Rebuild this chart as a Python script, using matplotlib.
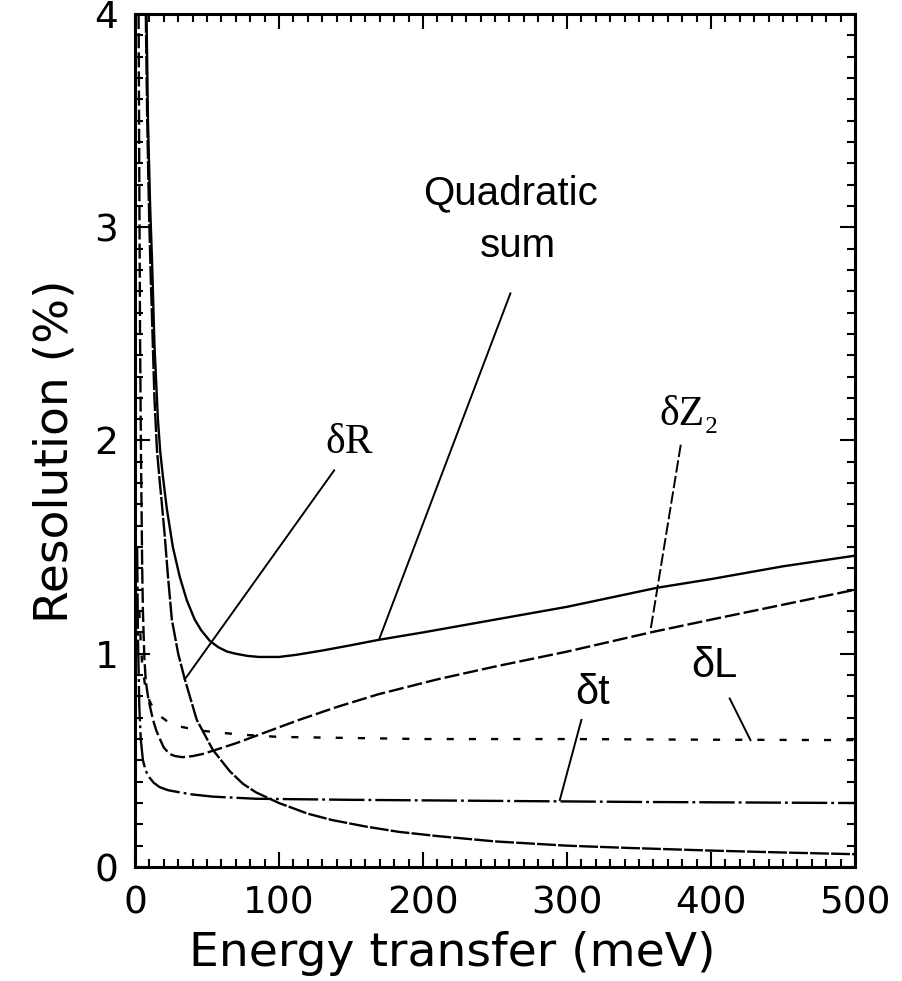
import numpy as np
import matplotlib
matplotlib.use('Agg')
from matplotlib import pyplot as plt
from matplotlib.ticker import MultipleLocator

# values (energy transfer in meV, resolution in %)
qs_x = [8, 9, 10.5, 11.8, 13.5, 15.9, 17.5, 19.4, 22.1, 26.3, 31.1, 36, 41.5,
        46, 52, 58, 64, 70, 78, 86, 100, 112, 130, 150, 169, 200, 250, 300,
        363, 400, 450, 500]
qs_y = [4.0, 3.5, 3.1, 2.85, 2.45, 2.10, 1.95, 1.83, 1.68, 1.50, 1.36, 1.25,
        1.16, 1.11, 1.06, 1.03, 1.01, 1.0, 0.99, 0.985, 0.985, 0.995, 1.015,
        1.04, 1.065, 1.10, 1.16, 1.22, 1.31, 1.35, 1.41, 1.46]

dR_x = [7.5, 8, 8.5, 9.2, 10, 11, 11.7, 12.6, 13.5, 15.2, 17, 18.7, 20.7,
        22.8, 25.6, 30, 34.6, 42.9, 54, 65.7, 75, 84, 100, 120, 137, 160, 183,
        210, 250, 300, 340, 400, 450, 500]
dR_y = [4.0, 3.75, 3.5, 3.25, 3.0, 2.75, 2.6, 2.4, 2.2, 1.96, 1.82, 1.70,
        1.55, 1.37, 1.16, 1.0, 0.88, 0.69, 0.55, 0.45, 0.39, 0.35, 0.30, 0.25,
        0.22, 0.19, 0.165, 0.145, 0.12, 0.10, 0.09, 0.077, 0.068, 0.06]

dZ2_x = [2.5, 3.0, 3.5, 4.2, 5.0, 5.5, 6.5, 7.5, 9, 10.5, 12.5, 14.8, 17.3,
         20, 24, 28, 33, 40, 47, 54, 70, 86, 114, 140, 169, 210, 250, 300,
         358, 400, 450, 500]
dZ2_y = [4.0, 3.2, 2.5, 1.9, 1.4, 1.2, 0.98, 0.87, 0.80, 0.75, 0.69, 0.64,
         0.60, 0.56, 0.53, 0.52, 0.515, 0.52, 0.53, 0.545, 0.58, 0.62, 0.69,
         0.75, 0.81, 0.88, 0.94, 1.01, 1.10, 1.16, 1.23, 1.30]

dL_x = [3, 4, 5, 7, 10, 13, 17, 23, 30, 45, 59, 75, 100, 150, 200, 300, 400,
        500]
dL_y = [1.2, 1.05, 0.95, 0.85, 0.78, 0.74, 0.71, 0.68, 0.66, 0.64, 0.63,
        0.62, 0.61, 0.605, 0.60, 0.60, 0.597, 0.595]

dt_x = [1.5, 2, 3, 4, 5.5, 7.5, 10, 13, 17, 23, 31, 40, 54, 84, 150, 250,
        350, 500]
dt_y = [1.5, 1.1, 0.75, 0.6, 0.5, 0.45, 0.42, 0.395, 0.375, 0.36, 0.35,
        0.34, 0.33, 0.32, 0.315, 0.31, 0.305, 0.30]

# leader lines from each label to its curve: (start), (end)
qs_leader = [(260.7, 2.69), (169.4, 1.065)]
dR_leader = [(138.3, 1.86), (34.6, 0.88)]
dZ2_leader = [(379, 1.98), (358, 1.11)]
dt_leader = [(310, 0.69), (295, 0.314)]
dL_leader = [(413, 0.79), (427.4, 0.595)]

lw = 1.7
dash_Z2 = (0, (6.4, 1.7))
fig = plt.figure(figsize=(9.03, 9.81), dpi=100)
ax = fig.add_axes([135/903, 114/981, 720/903, 853/981])

ax.plot(qs_x, qs_y, color='black', lw=lw, linestyle='solid')
ax.plot(dR_x, dR_y, color='black', lw=lw, linestyle=(0, (8, 0.9)))
ax.plot(dZ2_x, dZ2_y, color='black', lw=lw, linestyle=dash_Z2)
ax.plot(dL_x, dL_y, color='black', lw=lw, linestyle=(0, (3.0, 6.4)))
ax.plot(dt_x, dt_y, color='black', lw=lw, linestyle=(0, (15, 1.7, 1.2, 1.7)))

for seg, ls in [(qs_leader, 'solid'), (dR_leader, 'solid'),
                (dZ2_leader, dash_Z2), (dt_leader, 'solid'),
                (dL_leader, 'solid')]:
    ax.plot([seg[0][0], seg[1][0]], [seg[0][1], seg[1][1]],
            color='black', lw=1.4, linestyle=ls)

sans = ['Liberation Sans', 'DejaVu Sans']
serif = ['Liberation Serif', 'DejaVu Serif']
ax.text(260.7, 3.16, 'Quadratic', fontsize=29, family=sans, ha='center', va='center')
ax.text(265.6, 2.91, 'sum', fontsize=29, family=sans, ha='center', va='center')
ax.text(148.7, 1.99, 'δR', fontsize=30, family=serif, ha='center', va='center')
ax.text(385, 2.12, 'δZ₂', fontsize=30, family=serif, ha='center', va='center')
ax.text(318, 0.815, 'δt', fontsize=30, family=sans, ha='center', va='center')
ax.text(402.5, 0.943, 'δL', fontsize=30, family=sans, ha='center', va='center')

ax.set_xlim(0, 500)
ax.set_ylim(0, 4)
ax.xaxis.set_major_locator(MultipleLocator(100))
ax.xaxis.set_minor_locator(MultipleLocator(10))
ax.yaxis.set_major_locator(MultipleLocator(1))
ax.yaxis.set_minor_locator(MultipleLocator(0.1))
ax.tick_params(which='both', direction='in', top=True, right=True, width=1.5)
ax.tick_params(which='major', length=11, labelsize=27)
ax.tick_params(which='minor', length=6)
ax.tick_params(axis='x', pad=13)
ax.tick_params(axis='y', pad=12)
for sp in ax.spines.values():
    sp.set_linewidth(2.2)

ax.set_xlabel('Energy transfer (meV)', fontsize=34)
ax.set_ylabel('Resolution (%)', fontsize=34)
ax.xaxis.set_label_coords(0.44, -0.075)
ax.yaxis.set_label_coords(-0.08, 0.487)

fig.savefig('out.png', dpi=100)
